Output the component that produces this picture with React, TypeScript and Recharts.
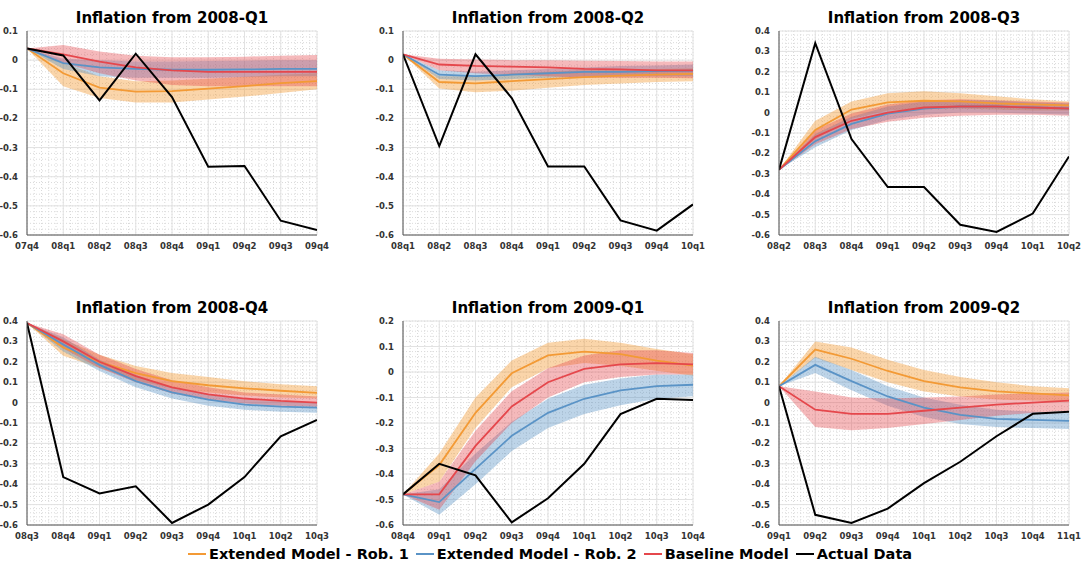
import React from "react";
import {
  ComposedChart,
  Line,
  Area,
  XAxis,
  YAxis,
  CartesianGrid,
} from "recharts";

// ---------- Panel 1: Inflation from 2008-Q1 ----------
const p1Labels = ["07q4", "08q1", "08q2", "08q3", "08q4", "09q1", "09q2", "09q3", "09q4"];
const p1Actual = [0.04, 0.016, -0.138, 0.022, -0.127, -0.366, -0.363, -0.551, -0.583];
const p1Ext1 = [0.04, -0.045, -0.094, -0.108, -0.106, -0.098, -0.089, -0.079, -0.072];
const p1Ext1Lo = [0.04, -0.09, -0.13, -0.145, -0.145, -0.135, -0.125, -0.113, -0.1];
const p1Ext1Hi = [0.04, -0.01, -0.055, -0.072, -0.07, -0.064, -0.057, -0.05, -0.045];
const p1Ext2 = [0.04, -0.01, -0.025, -0.03, -0.033, -0.033, -0.032, -0.03, -0.03];
const p1Ext2Lo = [0.04, -0.03, -0.055, -0.06, -0.06, -0.06, -0.058, -0.055, -0.055];
const p1Ext2Hi = [0.04, 0.005, 0.0, -0.005, -0.005, -0.003, -0.002, 0.0, 0.0];
const p1Base = [0.04, 0.02, -0.005, -0.025, -0.035, -0.04, -0.04, -0.04, -0.04];
const p1BaseLo = [0.04, -0.01, -0.045, -0.07, -0.085, -0.09, -0.09, -0.09, -0.09];
const p1BaseHi = [0.04, 0.052, 0.03, 0.015, 0.01, 0.01, 0.012, 0.015, 0.018];

// ---------- Panel 2: Inflation from 2008-Q2 ----------
const p2Labels = ["08q1", "08q2", "08q3", "08q4", "09q1", "09q2", "09q3", "09q4", "10q1"];
const p2Actual = [0.02, -0.295, 0.02, -0.13, -0.365, -0.365, -0.55, -0.585, -0.495];
const p2Ext1 = [0.02, -0.075, -0.08, -0.072, -0.065, -0.058, -0.053, -0.05, -0.047];
const p2Ext1Lo = [0.02, -0.097, -0.11, -0.105, -0.095, -0.085, -0.08, -0.075, -0.072];
const p2Ext1Hi = [0.02, -0.055, -0.055, -0.045, -0.04, -0.035, -0.032, -0.03, -0.028];
const p2Ext2 = [0.02, -0.05, -0.055, -0.05, -0.045, -0.04, -0.04, -0.038, -0.036];
const p2Ext2Lo = [0.02, -0.065, -0.07, -0.065, -0.06, -0.056, -0.055, -0.055, -0.055];
const p2Ext2Hi = [0.02, -0.035, -0.04, -0.035, -0.03, -0.025, -0.02, -0.018, -0.015];
const p2Base = [0.02, -0.015, -0.02, -0.022, -0.025, -0.03, -0.032, -0.035, -0.035];
const p2BaseLo = [0.02, -0.035, -0.045, -0.05, -0.055, -0.06, -0.06, -0.06, -0.062];
const p2BaseHi = [0.02, 0.005, 0.002, 0.0, 0.0, -0.002, -0.003, -0.005, -0.005];

// ---------- Panel 3: Inflation from 2008-Q3 ----------
const p3Labels = ["08q2", "08q3", "08q4", "09q1", "09q2", "09q3", "09q4", "10q1", "10q2"];
const p3Actual = [-0.28, 0.34, -0.13, -0.365, -0.365, -0.55, -0.585, -0.495, -0.215];
const p3Ext1 = [-0.28, -0.085, 0.015, 0.05, 0.058, 0.055, 0.045, 0.04, 0.035];
const p3Ext1Lo = [-0.28, -0.13, -0.03, 0.01, 0.02, 0.02, 0.015, 0.01, 0.01];
const p3Ext1Hi = [-0.28, -0.04, 0.055, 0.095, 0.105, 0.095, 0.08, 0.065, 0.055];
const p3Ext2 = [-0.28, -0.14, -0.055, -0.005, 0.02, 0.03, 0.03, 0.025, 0.02];
const p3Ext2Lo = [-0.28, -0.17, -0.085, -0.035, -0.01, 0.0, 0.0, -0.005, -0.01];
const p3Ext2Hi = [-0.28, -0.105, -0.02, 0.03, 0.055, 0.06, 0.058, 0.05, 0.045];
const p3Base = [-0.28, -0.12, -0.04, 0.0, 0.025, 0.03, 0.03, 0.025, 0.02];
const p3BaseLo = [-0.28, -0.155, -0.08, -0.045, -0.025, -0.015, -0.01, -0.01, -0.015];
const p3BaseHi = [-0.28, -0.085, -0.005, 0.04, 0.06, 0.065, 0.06, 0.055, 0.05];

// ---------- Panel 4: Inflation from 2008-Q4 ----------
const p4Labels = ["08q3", "08q4", "09q1", "09q2", "09q3", "09q4", "10q1", "10q2", "10q3"];
const p4Actual = [0.39, -0.365, -0.445, -0.41, -0.59, -0.5, -0.365, -0.165, -0.085];
const p4Ext1 = [0.39, 0.27, 0.2, 0.145, 0.105, 0.085, 0.07, 0.058, 0.048];
const p4Ext1Lo = [0.39, 0.23, 0.17, 0.11, 0.07, 0.05, 0.035, 0.025, 0.02];
const p4Ext1Hi = [0.39, 0.31, 0.235, 0.18, 0.145, 0.125, 0.105, 0.09, 0.08];
const p4Ext2 = [0.39, 0.285, 0.185, 0.105, 0.05, 0.015, -0.01, -0.02, -0.025];
const p4Ext2Lo = [0.39, 0.25, 0.155, 0.075, 0.02, -0.015, -0.035, -0.045, -0.05];
const p4Ext2Hi = [0.39, 0.32, 0.21, 0.135, 0.075, 0.04, 0.015, 0.005, 0.0];
const p4Base = [0.39, 0.3, 0.2, 0.13, 0.075, 0.04, 0.02, 0.008, 0.0];
const p4BaseLo = [0.39, 0.265, 0.17, 0.1, 0.045, 0.015, -0.005, -0.015, -0.02];
const p4BaseHi = [0.39, 0.335, 0.235, 0.165, 0.11, 0.075, 0.05, 0.04, 0.03];

// ---------- Panel 5: Inflation from 2009-Q1 ----------
const p5Labels = ["08q4", "09q1", "09q2", "09q3", "09q4", "10q1", "10q2", "10q3", "10q4"];
const p5Actual = [-0.48, -0.36, -0.405, -0.59, -0.495, -0.36, -0.165, -0.105, -0.11];
const p5Ext1 = [-0.48, -0.365, -0.16, -0.005, 0.065, 0.08, 0.07, 0.045, 0.025];
const p5Ext1Lo = [-0.48, -0.43, -0.22, -0.06, 0.015, 0.035, 0.025, 0.005, -0.015];
const p5Ext1Hi = [-0.48, -0.32, -0.1, 0.045, 0.115, 0.13, 0.115, 0.09, 0.07];
const p5Ext2 = [-0.48, -0.51, -0.38, -0.25, -0.16, -0.105, -0.072, -0.055, -0.05];
const p5Ext2Lo = [-0.48, -0.56, -0.44, -0.31, -0.22, -0.165, -0.13, -0.105, -0.095];
const p5Ext2Hi = [-0.48, -0.46, -0.32, -0.195, -0.105, -0.05, -0.025, -0.01, -0.01];
const p5Base = [-0.48, -0.48, -0.29, -0.135, -0.04, 0.012, 0.03, 0.035, 0.03];
const p5BaseLo = [-0.48, -0.54, -0.35, -0.2, -0.1, -0.04, -0.02, -0.01, -0.01];
const p5BaseHi = [-0.48, -0.43, -0.23, -0.075, 0.015, 0.065, 0.085, 0.085, 0.075];

// ---------- Panel 6: Inflation from 2009-Q2 ----------
const p6Labels = ["09q1", "09q2", "09q3", "09q4", "10q1", "10q2", "10q3", "10q4", "11q1"];
const p6Actual = [0.08, -0.55, -0.59, -0.52, -0.395, -0.29, -0.165, -0.055, -0.045];
const p6Ext1 = [0.08, 0.26, 0.215, 0.155, 0.105, 0.075, 0.055, 0.045, 0.035];
const p6Ext1Lo = [0.08, 0.22, 0.16, 0.1, 0.055, 0.03, 0.015, 0.01, 0.005];
const p6Ext1Hi = [0.08, 0.3, 0.27, 0.21, 0.16, 0.125, 0.1, 0.08, 0.07];
const p6Ext2 = [0.08, 0.185, 0.105, 0.03, -0.025, -0.06, -0.08, -0.085, -0.09];
const p6Ext2Lo = [0.08, 0.145, 0.06, -0.015, -0.07, -0.105, -0.12, -0.125, -0.13];
const p6Ext2Hi = [0.08, 0.225, 0.16, 0.08, 0.025, -0.01, -0.035, -0.045, -0.05];
const p6Base = [0.08, -0.035, -0.055, -0.055, -0.04, -0.025, -0.01, 0.0, 0.01];
const p6BaseLo = [0.08, -0.12, -0.135, -0.125, -0.105, -0.085, -0.065, -0.05, -0.04];
const p6BaseHi = [0.08, 0.055, 0.025, 0.02, 0.025, 0.03, 0.04, 0.045, 0.05];

const legendNames = ["Extended Model - Rob. 1", "Extended Model - Rob. 2", "Baseline Model", "Actual Data"];

const ORANGE = "#f39a35";
const BLUE = "#5a93c6";
const RED = "#e5474c";
const BLACK = "#000000";
const FONT = "'DejaVu Sans', sans-serif";

type PanelDef = {
  title: string;
  left: number;
  top: number;
  yMin: number;
  yMax: number;
  labels: string[];
  actual: number[];
  ext1: number[]; ext1Lo: number[]; ext1Hi: number[];
  ext2: number[]; ext2Lo: number[]; ext2Hi: number[];
  base: number[]; baseLo: number[]; baseHi: number[];
};

const panels: PanelDef[] = [
  { title: "Inflation from 2008-Q1", left: 27, top: 31, yMin: -0.6, yMax: 0.1, labels: p1Labels, actual: p1Actual,
    ext1: p1Ext1, ext1Lo: p1Ext1Lo, ext1Hi: p1Ext1Hi, ext2: p1Ext2, ext2Lo: p1Ext2Lo, ext2Hi: p1Ext2Hi, base: p1Base, baseLo: p1BaseLo, baseHi: p1BaseHi },
  { title: "Inflation from 2008-Q2", left: 403, top: 31, yMin: -0.6, yMax: 0.1, labels: p2Labels, actual: p2Actual,
    ext1: p2Ext1, ext1Lo: p2Ext1Lo, ext1Hi: p2Ext1Hi, ext2: p2Ext2, ext2Lo: p2Ext2Lo, ext2Hi: p2Ext2Hi, base: p2Base, baseLo: p2BaseLo, baseHi: p2BaseHi },
  { title: "Inflation from 2008-Q3", left: 779, top: 31, yMin: -0.6, yMax: 0.4, labels: p3Labels, actual: p3Actual,
    ext1: p3Ext1, ext1Lo: p3Ext1Lo, ext1Hi: p3Ext1Hi, ext2: p3Ext2, ext2Lo: p3Ext2Lo, ext2Hi: p3Ext2Hi, base: p3Base, baseLo: p3BaseLo, baseHi: p3BaseHi },
  { title: "Inflation from 2008-Q4", left: 27, top: 321, yMin: -0.6, yMax: 0.4, labels: p4Labels, actual: p4Actual,
    ext1: p4Ext1, ext1Lo: p4Ext1Lo, ext1Hi: p4Ext1Hi, ext2: p4Ext2, ext2Lo: p4Ext2Lo, ext2Hi: p4Ext2Hi, base: p4Base, baseLo: p4BaseLo, baseHi: p4BaseHi },
  { title: "Inflation from 2009-Q1", left: 403, top: 321, yMin: -0.6, yMax: 0.2, labels: p5Labels, actual: p5Actual,
    ext1: p5Ext1, ext1Lo: p5Ext1Lo, ext1Hi: p5Ext1Hi, ext2: p5Ext2, ext2Lo: p5Ext2Lo, ext2Hi: p5Ext2Hi, base: p5Base, baseLo: p5BaseLo, baseHi: p5BaseHi },
  { title: "Inflation from 2009-Q2", left: 779, top: 321, yMin: -0.6, yMax: 0.4, labels: p6Labels, actual: p6Actual,
    ext1: p6Ext1, ext1Lo: p6Ext1Lo, ext1Hi: p6Ext1Hi, ext2: p6Ext2, ext2Lo: p6Ext2Lo, ext2Hi: p6Ext2Hi, base: p6Base, baseLo: p6BaseLo, baseHi: p6BaseHi },
];

const PW = 290;
const PH = 204;
const YW = 34;
const MT = 6;
const MR = 14;
const XH = 18;

const fmtY = (v: number) => {
  const r = Math.round(v * 10) / 10;
  if (Math.abs(r) < 1e-9) return "0";
  return String(r);
};

function range(a: number, b: number, step: number) {
  const out: number[] = [];
  const n = Math.round((b - a) / step);
  for (let k = 0; k <= n; k++) out.push(Math.round((a + k * step) * 1000) / 1000);
  return out;
}

function Panel({ p }: { p: PanelDef }) {
  const data = p.labels.map((_, i) => ({
    i,
    act: p.actual[i],
    e1: p.ext1[i],
    e1r: [p.ext1Lo[i], p.ext1Hi[i]],
    e2: p.ext2[i],
    e2r: [p.ext2Lo[i], p.ext2Hi[i]],
    b: p.base[i],
    br: [p.baseLo[i], p.baseHi[i]],
  }));
  const yTicks = range(p.yMin, p.yMax, 0.1);
  const xTicks = p.labels.map((_, i) => i);
  const yMinor = range(p.yMin, p.yMax, 0.02);
  const xMinor = range(0, p.labels.length - 1, 0.2);
  const tickStyle = { fontSize: 8.5, fontWeight: 700, fill: "#333", fontFamily: FONT };
  return (
    <>
      <div
        style={{
          position: "absolute",
          left: p.left,
          width: PW,
          top: p.top - 22,
          textAlign: "center",
          fontFamily: FONT,
          fontWeight: 700,
          fontSize: 15,
          lineHeight: "18px",
          color: "#000",
          whiteSpace: "nowrap",
        }}
      >
        {p.title}
      </div>
      <div style={{ position: "absolute", left: p.left - YW, top: p.top - MT }}>
        <ComposedChart
          width={YW + PW + MR}
          height={MT + PH + XH}
          data={data}
          margin={{ top: MT, right: MR, left: 0, bottom: 0 }}
        >
          <CartesianGrid
            horizontalValues={yMinor}
            verticalValues={xMinor}
            stroke="#dadada"
            strokeDasharray="1 2"
          />
          <CartesianGrid stroke="#e2e2e2" strokeDasharray="" />
          <XAxis
            type="number"
            dataKey="i"
            domain={[0, p.labels.length - 1]}
            ticks={xTicks}
            tickFormatter={(v: number) => p.labels[v]}
            interval={0}
            tick={tickStyle}
            tickLine={false}
            tickMargin={2}
            height={XH}
            stroke="#555"
            allowDataOverflow
          />
          <YAxis
            type="number"
            domain={[p.yMin, p.yMax]}
            ticks={yTicks}
            tickFormatter={fmtY}
            interval={0}
            tick={tickStyle}
            tickLine={false}
            tickMargin={3}
            width={YW}
            stroke="#555"
            allowDataOverflow
          />
          <Area dataKey="e1r" stroke="none" fill={ORANGE} fillOpacity={0.42} isAnimationActive={false} />
          <Area dataKey="e2r" stroke="none" fill={BLUE} fillOpacity={0.4} isAnimationActive={false} />
          <Area dataKey="br" stroke="none" fill={RED} fillOpacity={0.38} isAnimationActive={false} />
          <Line dataKey="e1" stroke={ORANGE} strokeWidth={1.8} dot={false} isAnimationActive={false} />
          <Line dataKey="e2" stroke={BLUE} strokeWidth={1.8} dot={false} isAnimationActive={false} />
          <Line dataKey="b" stroke={RED} strokeWidth={1.8} dot={false} isAnimationActive={false} />
          <Line dataKey="act" stroke={BLACK} strokeWidth={2} dot={false} isAnimationActive={false} />
        </ComposedChart>
      </div>
    </>
  );
}

const legendColors = [ORANGE, BLUE, RED, BLACK];

export default function App() {
  return (
    <div
      style={{
        position: "absolute",
        left: 0,
        top: 0,
        width: 1083,
        height: 566,
        background: "#fff",
        overflow: "hidden",
      }}
    >
      {panels.map((p) => (
        <Panel key={p.title} p={p} />
      ))}
      <div
        style={{
          position: "absolute",
          left: 188,
          top: 545,
          display: "flex",
          fontFamily: FONT,
          fontWeight: 700,
          fontSize: 14.5,
          lineHeight: "18px",
          whiteSpace: "nowrap",
        }}
      >
        {legendNames.map((name, k) => (
          <div key={name} style={{ display: "flex", alignItems: "center", marginRight: k < 3 ? 7 : 0 }}>
            <span
              style={{
                display: "inline-block",
                width: 18,
                height: 2,
                background: legendColors[k],
                marginRight: 3,
              }}
            />
            <span>{name}</span>
          </div>
        ))}
      </div>
    </div>
  );
}
